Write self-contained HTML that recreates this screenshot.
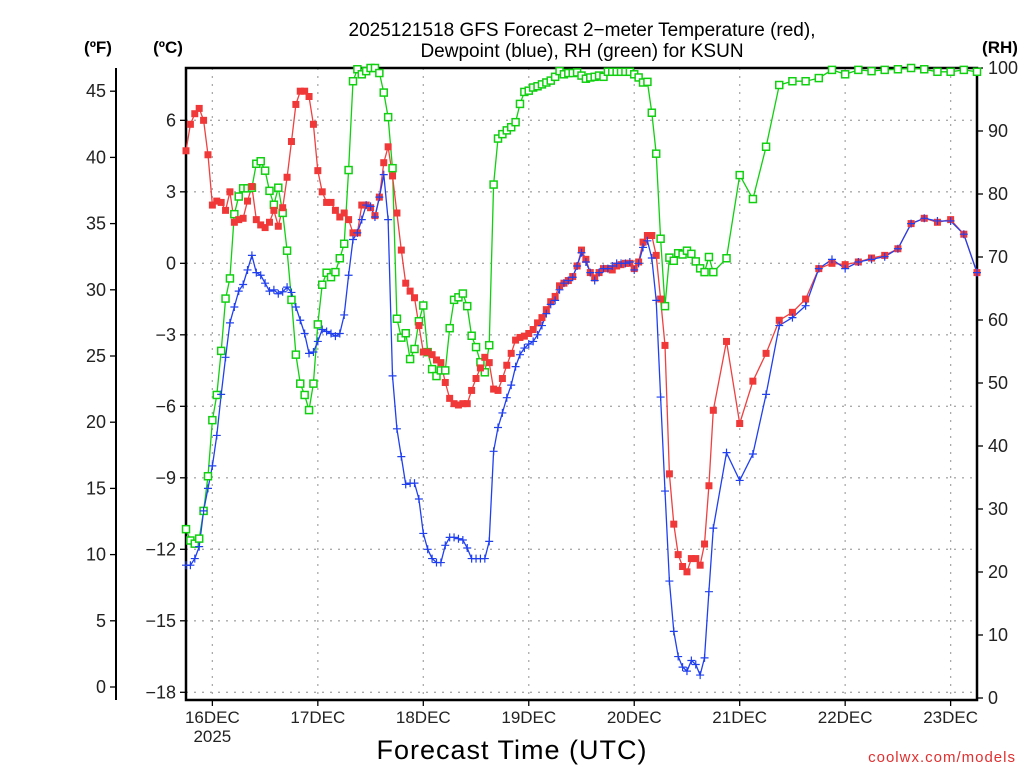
<!DOCTYPE html>
<html><head><meta charset="utf-8"><style>
body{margin:0;background:#fff;}
svg{display:block;font-family:"Liberation Sans",sans-serif;}
</style></head><body>
<svg id="chart" width="1024" height="768" viewBox="0 0 1024 768" xmlns="http://www.w3.org/2000/svg">
<text x="582" y="36" font-size="19" text-anchor="middle">2025121518 GFS Forecast 2−meter Temperature (red),</text>
<text x="582" y="57" font-size="19" text-anchor="middle">Dewpoint (blue), RH (green) for KSUN</text>
<text x="98" y="53" font-size="17" font-weight="bold" text-anchor="middle">(ºF)</text>
<text x="168" y="53" font-size="17" font-weight="bold" text-anchor="middle">(ºC)</text>
<text x="1000" y="53" font-size="17" font-weight="bold" text-anchor="middle">(RH)</text>
<text x="512" y="759" font-size="27" text-anchor="middle" letter-spacing="1">Forecast Time (UTC)</text>
<text x="1016" y="762" font-size="15" fill="#e03030" text-anchor="end" letter-spacing="1">coolwx.com/models</text>
<g id="grid"></g>
<g id="axes"></g>
<g id="series"></g>
</svg>
<script>
const hours=[-6,-5,-4,-3,-2,-1,0,1,2,3,4,5,6,7,8,9,10,11,12,13,14,15,16,17,18,19,20,21,22,23,24,25,26,27,28,29,30,31,32,33,34,35,36,37,38,39,40,41,42,43,44,45,46,47,48,49,50,51,52,53,54,55,56,57,58,59,60,61,62,63,64,65,66,67,68,69,70,71,72,73,74,75,76,77,78,79,80,81,82,83,84,85,86,87,88,89,90,91,92,93,94,95,96,97,98,99,100,101,102,103,104,105,106,107,108,109,110,111,112,113,114,117,120,123,126,129,132,135,138,141,144,147,150,153,156,159,162,165,168,171,174];
const tempF=[40.5,42.5,43.3,43.7,42.8,40.2,36.4,36.7,36.6,36.0,37.4,35.1,35.3,35.4,36.7,37.8,35.3,34.9,34.7,35.1,36.0,34.8,36.2,38.5,41.2,44.0,45.0,45.0,44.6,42.5,39.0,37.4,36.6,36.6,36.0,35.5,35.8,35.3,34.3,34.3,36.4,36.4,36.2,35.6,37.0,39.6,40.8,38.6,35.8,33.0,30.5,29.9,29.4,27.3,25.3,25.3,25.1,24.7,24.5,23.0,21.8,21.4,21.3,21.4,21.4,22.4,23.3,24.1,24.9,24.5,22.5,22.4,23.3,24.3,25.2,26.2,26.4,26.5,26.7,27.0,27.5,27.9,28.5,29.1,29.5,30.3,30.5,30.7,31.0,31.8,33.0,32.3,31.3,30.9,31.3,31.6,31.6,31.5,31.8,31.9,32.0,32.0,31.6,32.1,33.6,34.1,34.1,32.6,29.3,25.8,16.1,12.3,10.0,9.1,8.7,9.7,9.7,9.2,10.8,15.2,20.9,26.1,19.9,23.1,25.2,27.7,28.3,29.3,31.6,32.0,31.9,32.1,32.4,32.6,33.1,35.0,35.4,35.1,35.3,34.2,31.3];
const dewF=[9.2,9.2,9.7,10.6,13.3,15.0,16.7,19.0,22.1,24.9,27.5,28.7,29.9,30.4,31.5,32.6,31.3,31.1,30.5,29.9,30.0,29.7,29.85,30.2,29.8,28.7,27.7,26.7,25.2,25.3,26.1,27.0,26.85,26.7,26.5,26.7,28.1,31.1,33.8,34.3,35.3,36.4,36.3,35.5,37.0,38.7,35.3,23.5,19.5,17.4,15.3,15.4,15.4,14.2,11.6,10.4,9.7,9.4,9.4,10.7,11.3,11.3,11.2,11.1,10.5,9.7,9.7,9.7,9.7,11.0,17.8,19.6,20.7,21.85,22.8,24.2,25.1,25.6,25.9,26.1,26.6,27.3,28.2,28.9,29.2,30.0,30.5,30.7,30.95,31.8,32.8,32.1,31.3,30.7,31.3,31.6,31.6,31.8,32.0,32.0,32.0,32.1,31.5,32.0,33.2,33.7,32.4,29.2,21.9,14.8,8.0,4.2,2.3,1.5,1.2,2.0,1.7,0.9,2.2,7.2,12.0,17.7,15.6,17.6,22.1,27.3,27.9,28.8,31.6,32.3,31.6,32.1,32.3,32.5,33.1,35.0,35.4,35.2,35.2,34.2,31.3];
const rh=[26.8,25.0,24.5,25.3,29.7,35.2,44.1,48.1,55.1,63.4,66.6,76.8,79.6,80.9,80.9,81.0,84.8,85.2,83.7,80.5,78.3,81.0,77.0,71.0,63.2,54.5,49.9,48.1,45.7,49.9,59.3,65.6,67.5,66.8,67.6,69.8,72.1,83.8,97.9,99.8,99.0,99.5,100,100,99.2,96.1,92.2,84.1,60.2,57.2,57.9,53.8,55.4,59.8,62.3,54.9,52.2,51.1,52.0,52.0,58.7,63.2,63.6,64.2,62.2,57.5,55.7,53.3,51.7,56.0,81.5,88.8,89.5,90.1,90.6,91.4,94.3,96.2,96.4,96.9,97.1,97.4,97.7,98.0,98.6,99.5,99.0,99.2,99.2,99.3,98.8,98.3,98.5,98.6,98.8,98.6,99.4,99.4,99.4,99.4,99.4,99.4,99.0,98.5,97.7,97.8,92.9,86.4,72.9,62.2,69.9,69.4,70.6,70.4,71.0,70.5,69.3,68.2,67.6,70.0,67.6,69.8,83.0,79.2,87.5,97.3,97.9,97.9,98.4,99.7,99.0,99.7,99.5,99.7,99.8,100,99.8,99.4,99.4,99.7,99.4];
const dayLabels=["16DEC","17DEC","18DEC","19DEC","20DEC","21DEC","22DEC","23DEC"];
const dayHours=[0,24,48,72,96,120,144,168];
const fTicks=[0,5,10,15,20,25,30,35,40,45];
const cTicks=[-18,-15,-12,-9,-6,-3,0,3,6];
const rhTicks=[0,10,20,30,40,50,60,70,80,90,100];

const X0=186,X1=977,H0=-6,H1=174;
const xs=h=>X0+(h-H0)*(X1-X0)/(H1-H0);
const yF=f=>687-f*13.24;
const yC=c=>yF(c*9/5+32);
const yRH=r=>698-r*6.3;
const NS="http://www.w3.org/2000/svg";
function mk(tag,attrs,parent){const e=document.createElementNS(NS,tag);for(const k in attrs)e.setAttribute(k,attrs[k]);parent.appendChild(e);return e;}
const grid=document.getElementById('grid'),axes=document.getElementById('axes'),ser=document.getElementById('series');

cTicks.forEach(c=>{const y=yC(c);
 const g=mk('line',{x1:X0,x2:X1,y1:y,y2:y,stroke:'#aaa','stroke-width':1.3,'stroke-dasharray':'2,6'},grid);
 
 
 const t=mk('line',{x1:X0-6,x2:X0,y1:y,y2:y,stroke:'#000','stroke-width':1.3},axes);
 
 
 const l=mk('text',{x:X0-10,y:y+6,'font-size':18,'text-anchor':'end',fill:'#222'},axes);
 l.textContent=(c<0?'−':'')+Math.abs(c);
 
 
});
dayHours.forEach((h,i)=>{const x=xs(h);
 const g=mk('line',{x1:x,x2:x,y1:68,y2:700,stroke:'#aaa','stroke-width':1.3,'stroke-dasharray':'2,6'},grid);
 
 
 const t=mk('line',{x1:x,x2:x,y1:700,y2:706,stroke:'#000','stroke-width':1.3},axes);
 
 
 const l=mk('text',{x:x,y:723,'font-size':17,'text-anchor':'middle',fill:'#222'},axes);
 l.textContent=dayLabels[i];
 
 
});
const yl=mk('text',{x:xs(0),y:742,'font-size':17,'text-anchor':'middle',fill:'#222'},axes);
yl.textContent='2025';


fTicks.forEach(f=>{const y=yF(f);
 const t=mk('line',{x1:110,x2:116,y1:y,y2:y,stroke:'#000','stroke-width':1.3},axes);
 
 
 const l=mk('text',{x:106,y:y+6,'font-size':18,'text-anchor':'end',fill:'#222'},axes);
 l.textContent=f;
 
 
});
rhTicks.forEach(r=>{const y=yRH(r);
 const t=mk('line',{x1:X1,x2:X1+6,y1:y,y2:y,stroke:'#000','stroke-width':1.3},axes);
 
 
 const l=mk('text',{x:988,y:y+6,'font-size':18,'text-anchor':'start',fill:'#222'},axes);
 l.textContent=r;
 
 
});
const fAxis=mk('line',{x1:116,x2:116,y1:68,y2:700,stroke:'#000','stroke-width':2},axes);


const frame=mk('path',{d:`M${X0},68 L${X0},700 L${X1},700 L${X1},68 Z`,fill:'none',stroke:'#000','stroke-width':2.5},axes);



function line(vals,yf,color,name){
 const d=vals.map((v,i)=>(i?'L':'M')+xs(hours[i]).toFixed(1)+','+yf(v).toFixed(1)).join(' ');
 const p=mk('path',{d:d,fill:'none',stroke:color,'stroke-width':1.3},ser);
 
 
}
line(rh,yRH,'#10d010','rh-line');
line(tempF,yF,'#f04040','temperature-line');
line(dewF,yF,'#2040f0','dewpoint-line');
rh.forEach((v,i)=>{const x=xs(hours[i]),y=yRH(v);
 const m=mk('rect',{x:x-3.5,y:y-3.5,width:7,height:7,fill:'#fff',stroke:'#10d010','stroke-width':1.5},ser);
 
 
});
tempF.forEach((v,i)=>{const x=xs(hours[i]),y=yF(v);
 const m=mk('rect',{x:x-3.5,y:y-3.5,width:7,height:7,fill:'#f03838'},ser);
 
 
});
dewF.forEach((v,i)=>{const x=xs(hours[i]),y=yF(v);
 const m=mk('path',{d:`M${x-4},${y} H${x+4} M${x},${y-4} V${y+4}`,stroke:'#2040f0','stroke-width':1.2},ser);
 
 
});
</script>
</body></html>
